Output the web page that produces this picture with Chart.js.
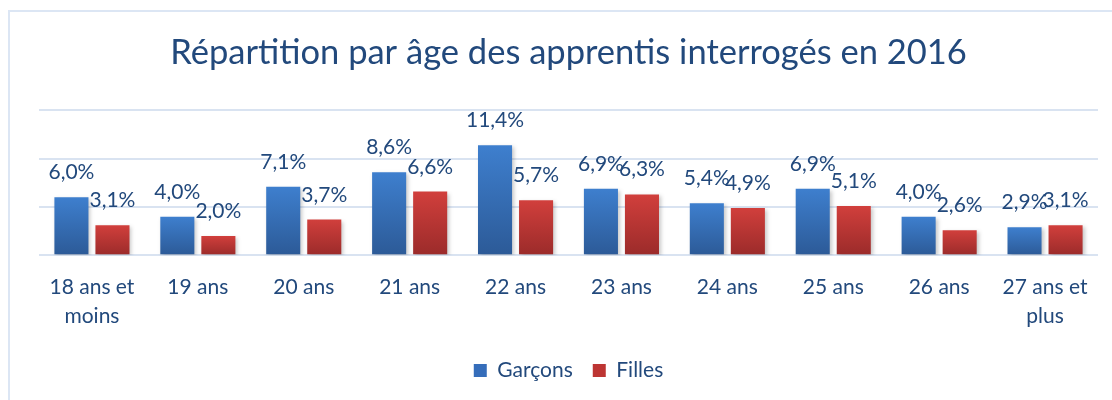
<!DOCTYPE html>
<html>
<head>
<meta charset="utf-8">
<script src="https://cdn.jsdelivr.net/npm/chart.js@4"></script>
<style>
  body { margin: 0; background: #fff; }
  #frame { position: absolute; left: 8px; top: 10px; width: 1200px; height: 500px;
           border-left: 2px solid #dce6f4; border-top: 2px solid #dce6f4; }
  #c { position: absolute; left: 0; top: 0; }
</style>
</head>
<body>
<div id="frame"></div>
<canvas id="c" width="1112" height="400"></canvas>
<script>
var categories = ["18 ans et|moins", "19 ans", "20 ans", "21 ans", "22 ans", "23 ans", "24 ans", "25 ans", "26 ans", "27 ans et|plus"];
var garcons = [6.0, 4.0, 7.1, 8.6, 11.4, 6.9, 5.4, 6.9, 4.0, 2.9];
var filles = [3.1, 2.0, 3.7, 6.6, 5.7, 6.3, 4.9, 5.1, 2.6, 3.1];
var titleText = "Répartition par âge des apprentis interrogés en 2016";

var textColor = "#22497c";
var fontFam = "Lato, 'Open Sans', sans-serif";

function barGradient(top, bottom) {
  return function (context) {
    var chart = context.chart;
    if (context.type !== "data" || !chart.chartArea) return top;
    var y = chart.scales.y;
    var y0 = y.getPixelForValue(0);
    var y1 = y.getPixelForValue(context.parsed.y);
    var g = chart.ctx.createLinearGradient(0, y1, 0, y0);
    g.addColorStop(0, top);
    g.addColorStop(1, bottom);
    return g;
  };
}

var shadowPlugin = {
  id: "shadow",
  beforeDatasetsDraw: function (chart) {
    var ctx = chart.ctx;
    ctx.save();
    ctx.shadowColor = "rgba(0,0,0,0.22)";
    ctx.shadowBlur = 4;
    ctx.shadowOffsetX = 2;
    ctx.shadowOffsetY = 2;
  },
  afterDatasetsDraw: function (chart) {
    chart.ctx.restore();
  }
};

var labelPlugin = {
  id: "valueLabels",
  afterDatasetsDraw: function (chart) {
    var ctx = chart.ctx;
    ctx.save();
    ctx.shadowColor = "transparent";
    ctx.font = "21px " + fontFam;
    ctx.fillStyle = textColor;
    ctx.textAlign = "center";
    ctx.textBaseline = "alphabetic";
    chart.data.datasets.forEach(function (ds, i) {
      chart.getDatasetMeta(i).data.forEach(function (bar, j) {
        var txt = ds.data[j].toFixed(1).replace(".", ",") + "%";
        ctx.fillText(txt, bar.x, bar.y - 18);
      });
    });
    ctx.restore();
  }
};

new Chart(document.getElementById("c").getContext("2d"), {
  type: "bar",
  data: {
    labels: categories.map(function (c) { return c.split("|"); }),
    datasets: [
      { label: "Garçons", data: garcons, backgroundColor: barGradient("#3e7fce", "#2c5a97"),
        barPercentage: 0.83, categoryPercentage: 0.775 },
      { label: "Filles", data: filles, backgroundColor: barGradient("#d13f3c", "#9b2b2a"),
        barPercentage: 0.83, categoryPercentage: 0.775 }
    ]
  },
  options: {
    responsive: false,
    animation: false,
    devicePixelRatio: 1,
    layout: { padding: { left: 39, right: 14, top: 0, bottom: 9 } },
    plugins: {
      title: {
        display: true,
        text: titleText,
        color: textColor,
        font: { family: fontFam, size: 34.5, weight: "normal", lineHeight: 1.2 },
        padding: { top: 32, bottom: 37 }
      },
      legend: {
        position: "bottom",
        labels: {
          color: textColor,
          font: { family: fontFam, size: 21 },
          boxWidth: 13,
          boxHeight: 13,
          padding: 20,
          generateLabels: function () {
            return [
              { text: "Garçons", fillStyle: "#356dba", strokeStyle: "#356dba", lineWidth: 0, fontColor: textColor, datasetIndex: 0 },
              { text: "Filles", fillStyle: "#bd3533", strokeStyle: "#bd3533", lineWidth: 0, fontColor: textColor, datasetIndex: 1 }
            ];
          }
        }
      },
      tooltip: { enabled: false }
    },
    scales: {
      x: {
        grid: { display: false },
        border: { display: false },
        ticks: { color: textColor, font: { family: fontFam, size: 21, lineHeight: 1.35 }, padding: 10, maxRotation: 0 }
      },
      y: {
        min: 0,
        max: 15,
        ticks: { stepSize: 5, display: false },
        grid: { color: "#d9e3f1", lineWidth: 2, drawTicks: false },
        border: { display: false }
      }
    }
  },
  plugins: [shadowPlugin, labelPlugin]
});
</script>
</body>
</html>
